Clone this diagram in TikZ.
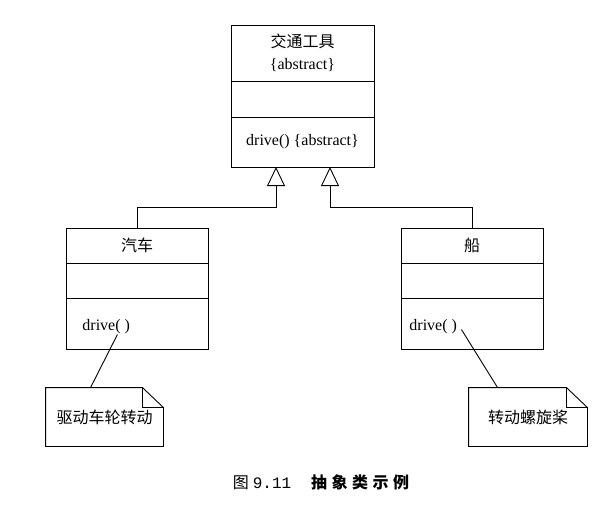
\documentclass[tikz,border=0pt]{standalone}
\usepackage{fontspec}
\setmainfont{Liberation Serif}
\newfontfamily\cjk{Noto Sans CJK SC}
\newfontfamily\cjkcap[LetterSpace=28]{Noto Sans CJK SC}
\newfontfamily\capnum{Liberation Mono}
\usetikzlibrary{positioning,arrows.meta}

\tikzset{
  classpart/.style={draw, minimum width=143pt, inner sep=0pt, outer sep=0pt, align=center, font=\fontsize{16}{22}\selectfont},
  fnlabel/.style={anchor=west, inner sep=0pt, font=\fontsize{16}{20}\selectfont},
  notebox/.style={minimum width=117pt, minimum height=58pt, inner sep=0pt, font=\cjk\fontsize{16}{20}\selectfont},
  inherit/.style={-{Triangle[open,length=19pt,width=18pt]}},
}
\newcommand{\notefold}[1]{%
  \draw (#1.north west) -- ([xshift=-21pt]#1.north east) -- ([yshift=-20pt]#1.north east) -- (#1.south east) -- (#1.south west) -- cycle;
  \draw ([xshift=-21pt]#1.north east) |- ([yshift=-20pt]#1.north east);
}

\begin{document}
\begin{tikzpicture}[x=1pt, y=-1pt, line width=0.9pt]
\useasboundingbox (0,0) rectangle (597,504);
% abstract class
\node[classpart, minimum height=56pt] (veh) at (302.5,53) {{\cjk 交通工具}\\\{abstract\}};
\node[classpart, minimum height=36pt, below=0pt of veh] (vehattr) {};
\node[classpart, minimum height=50pt, below=0pt of vehattr] (vehops) {drive() \{abstract\}};
% subclasses
\node[classpart, minimum width=142pt, minimum height=35pt] (car) at (137,245.5) {\cjk 汽车};
\node[classpart, minimum width=142pt, minimum height=35pt, below=0pt of car] (carattr) {};
\node[classpart, minimum width=142pt, minimum height=51pt, below=0pt of carattr] (carops) {};
\node[fnlabel] (carfn) at ([xshift=16pt,yshift=-3pt]carops.west) {drive( )};
\node[classpart, minimum width=142pt, minimum height=35pt] (boat) at (472,245.5) {\cjk 船};
\node[classpart, minimum width=142pt, minimum height=35pt, below=0pt of boat] (boatattr) {};
\node[classpart, minimum width=142pt, minimum height=51pt, below=0pt of boatattr] (boatops) {};
\node[fnlabel] (boatfn) at ([xshift=8pt,yshift=-3pt]boatops.west) {drive( )};
% generalization
\coordinate (jl) at (276,207);
\coordinate (jr) at (330,207);
\draw[inherit] (car.north) |- (jl) -- (jl |- vehops.south);
\draw[inherit] (boat.north) |- (jr) -- (jr |- vehops.south);
% notes
\node[notebox] (carnote) at (104.5,417) {驱动车轮转动};
\node[notebox, minimum width=118pt] (boatnote) at (528,417) {转动螺旋桨};
\notefold{carnote}
\notefold{boatnote}
\draw ([xshift=-13pt,yshift=-8pt]carfn.east) -- ([xshift=45pt]carnote.north west);
\draw ([xshift=4pt,yshift=-3pt]boatfn.east) -- ([xshift=29pt]boatnote.north west);
% caption
\node[font=\fontsize{16}{19}\selectfont] (caption) at (321,482) {{\cjk 图} {\capnum 9.11}\hspace{20pt}{\cjkcap\bfseries 抽象类示例}};
\end{tikzpicture}
\end{document}
